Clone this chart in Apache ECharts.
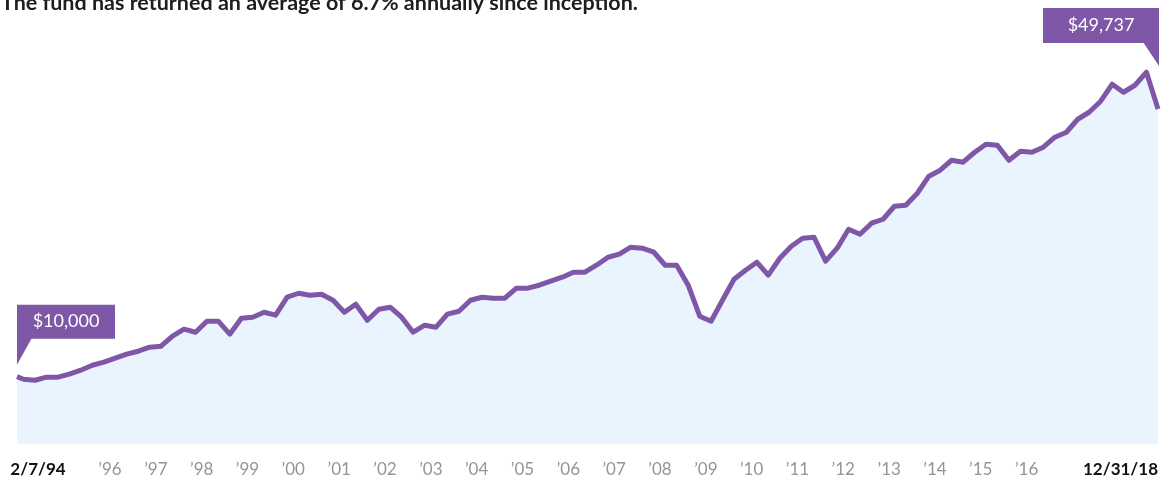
<!DOCTYPE html>
<html>
<head>
<meta charset="utf-8">
<script src="https://cdn.jsdelivr.net/npm/echarts@6/dist/echarts.min.js"></script>
<style>
  html, body { margin: 0; padding: 0; background: #fff; }
  #chart { width: 1171px; height: 480px; }
</style>
</head>
<body>
<div id="chart"></div>
<script>
// growth of $10,000, first value on 2/7/94 then quarter ends
const startDate = [1994, 1, 7];
const endDate = [2018, 11, 31];
const startValue = 10000;
const quarterValues = [
  9620, 9470, 9920, 9920,
  10370, 10960, 11700, 12150,
  12740, 13340, 13780, 14380,
  14520, 16010, 17050, 16600,
  18240, 18240, 16310, 18680,
  18830, 19570, 19130, 21800,
  22390, 22100, 22250, 21350,
  19570, 20760, 18380, 20020,
  20320, 18830, 16600, 17640,
  17350, 19280, 19720, 21350,
  21800, 21650, 21650, 23140,
  23140, 23580, 24180, 24770,
  25510, 25510, 26550, 27740,
  28190, 29230, 29080, 28480,
  26550, 26550, 23580, 18980,
  18240, 21350, 24470, 25810,
  27000, 25070, 27590, 29370,
  30560, 30710, 27150, 29080,
  31900, 31160, 32790, 33380,
  35310, 35460, 37240, 39770,
  40660, 42140, 41850, 43330,
  44520, 44370, 42140, 43480,
  43330, 44080, 45560, 46300,
  48230, 49270, 50910, 53430,
  52240, 53280, 55210, 49737
];
const tickYears = [1996, 1997, 1998, 1999, 2000, 2001, 2002, 2003, 2004, 2005,
  2006, 2007, 2008, 2009, 2010, 2011, 2012, 2013, 2014, 2015, 2016];
const startLabel = '2/7/94';
const endLabel = '12/31/18';
const startCallout = '$10,000';
const endCallout = '$49,737';
const titleText = 'The fund has returned an average of 6.7% annually since inception.';

const purple = '#7e57a6';
const font = 'Lato, "Noto Sans", sans-serif';

const tMin = Date.UTC(startDate[0], startDate[1], startDate[2]);
const tMax = Date.UTC(endDate[0], endDate[1], endDate[2]);

// quarter end dates: 3/31/94, 6/30/94 ...
const seriesData = [[tMin, startValue]];
quarterValues.forEach((v, i) => {
  const y = 1994 + Math.floor(i / 4);
  const m = (i % 4) * 3 + 3; // day 0 of next month = last day of quarter month
  seriesData.push([Date.UTC(y, m, 0), v]);
});

const tickValues = [tMin].concat(tickYears.map(y => Date.UTC(y, 0, 1))).concat([tMax]);

const chart = echarts.init(document.getElementById('chart'));

const option = {
  animation: false,
  title: {
    text: titleText,
    left: 1,
    top: -8,
    padding: 0,
    textStyle: { fontFamily: font, fontSize: 21.5, fontWeight: 'bold', color: '#1e1e1e' }
  },
  grid: { left: 17, right: 13, top: 40, bottom: 36 },
  xAxis: {
    type: 'value',
    min: tMin,
    max: tMax,
    axisLine: { show: false },
    axisTick: { show: false },
    splitLine: { show: false },
    axisLabel: {
      customValues: tickValues,
      margin: 17,
      alignMinLabel: 'center',
      alignMaxLabel: 'right',
      formatter: function (value) {
        if (value === tMin) return '{s|' + startLabel + '}';
        if (value === tMax) return '{b|' + endLabel + '}';
        const y = new Date(value).getUTCFullYear();
        return '{y|\u2019' + String(y).slice(2) + '}';
      },
      rich: {
        s: { fontFamily: font, fontSize: 17, fontWeight: 'bold', color: '#111', padding: [0, 0, 0, 42] },
        b: { fontFamily: font, fontSize: 17, fontWeight: 'bold', color: '#111' },
        y: { fontFamily: font, fontSize: 17, color: '#959595', padding: [0, 0, 0, 12] }
      }
    }
  },
  yAxis: {
    type: 'value',
    min: 0,
    max: 60000,
    show: false,
    splitLine: { show: false }
  },
  series: [
    {
      type: 'line',
      data: seriesData,
      showSymbol: false,
      symbol: 'none',
      lineStyle: { color: purple, width: 5, join: 'round' },
      areaStyle: { color: '#e9f4fe', opacity: 1 },
      z: 2
    }
  ]
};

chart.setOption(option);

// callout boxes tied to first and last point
const p0 = chart.convertToPixel({ seriesIndex: 0 }, seriesData[0]);
const pN = chart.convertToPixel({ seriesIndex: 0 }, seriesData[seriesData.length - 1]);

const b1 = { x: p0[0], y: p0[1] - 72, w: 98, h: 34 };
const b2 = { x: pN[0] + 1 - 116, y: pN[1] - 101, w: 116, h: 35 };

chart.setOption({
  graphic: [
    { type: 'rect', shape: { x: b1.x, y: b1.y, width: b1.w, height: b1.h }, style: { fill: purple }, z: 10 },
    { type: 'polygon', shape: { points: [[b1.x, b1.y + b1.h - 1], [b1.x + 15, b1.y + b1.h - 1], [b1.x, b1.y + b1.h + 26]] }, style: { fill: purple }, z: 10 },
    { type: 'text', x: b1.x + b1.w / 2, y: b1.y + b1.h / 2, style: { text: startCallout, fill: '#fff', font: '18px ' + font, align: 'center', verticalAlign: 'middle' }, z: 11 },
    { type: 'rect', shape: { x: b2.x, y: b2.y, width: b2.w, height: b2.h }, style: { fill: purple }, z: 10 },
    { type: 'polygon', shape: { points: [[b2.x + b2.w - 16, b2.y + b2.h - 1], [b2.x + b2.w, b2.y + b2.h - 1], [b2.x + b2.w, b2.y + b2.h + 23]] }, style: { fill: purple }, z: 10 },
    { type: 'text', x: b2.x + b2.w / 2, y: b2.y + b2.h / 2, style: { text: endCallout, fill: '#fff', font: '18px ' + font, align: 'center', verticalAlign: 'middle' }, z: 11 }
  ]
});
</script>
</body>
</html>
